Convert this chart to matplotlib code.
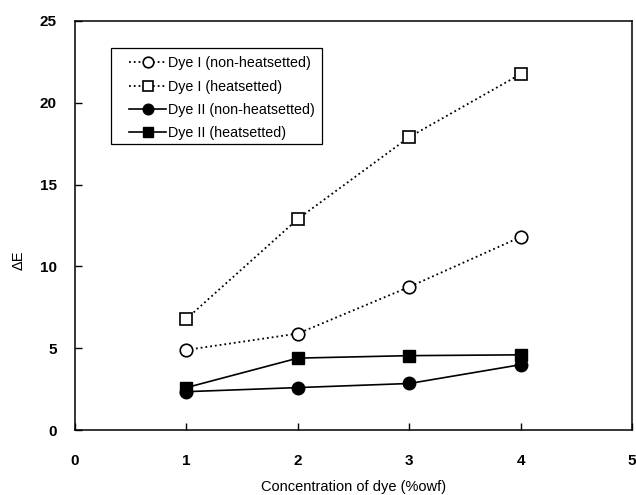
import matplotlib
matplotlib.use("Agg")
import matplotlib.pyplot as plt
import matplotlib.patches as patches

# concentration of dye (%owf)
conc = [1, 2, 3, 4]

dye1_non_heat = [4.9, 5.9, 8.75, 11.8]
dye1_heat = [6.8, 12.9, 17.9, 21.75]
dye2_non_heat = [2.35, 2.6, 2.85, 4.0]
dye2_heat = [2.6, 4.4, 4.55, 4.6]

labels = [
    "Dye I (non-heatsetted)",
    "Dye I (heatsetted)",
    "Dye II (non-heatsetted)",
    "Dye II (heatsetted)",
]

x_ticks = [0, 1, 2, 3, 4, 5]
y_ticks = [0, 5, 10, 15, 20, 25]

plt.rcParams["font.family"] = ["Liberation Sans", "DejaVu Sans"]

fig = plt.figure(figsize=(6.36, 4.95), dpi=100)
ax = fig.add_axes([0.118, 0.131, 0.876, 0.827])

ms = 9
ax.plot(conc, dye1_non_heat, ls=":", lw=1.3, color="black", marker="o",
        ms=ms, mfc="white", mec="black", mew=1.2, label=labels[0])
ax.plot(conc, dye1_heat, ls=":", lw=1.3, color="black", marker="s",
        ms=ms, mfc="white", mec="black", mew=1.2, label=labels[1])
ax.plot(conc, dye2_non_heat, ls="-", lw=1.2, color="black", marker="o",
        ms=ms, mfc="black", mec="black", label=labels[2])
ax.plot(conc, dye2_heat, ls="-", lw=1.2, color="black", marker="s",
        ms=ms, mfc="black", mec="black", label=labels[3])

ax.set_xlim(0, 5)
ax.set_ylim(0, 25)
ax.set_xticks(x_ticks)
ax.set_yticks(y_ticks)
ax.tick_params(direction="in", length=5, width=1, labelsize=11)
ax.tick_params(axis="x", pad=17)
ax.tick_params(axis="y", pad=13)
for lab in ax.get_xticklabels() + ax.get_yticklabels():
    lab.set_fontweight("bold")

for s in ax.spines.values():
    s.set_linewidth(1.1)

ax.set_xlabel("Concentration of dye (%owf)", fontsize=10.5, labelpad=9)
ax.set_ylabel("ΔE", fontsize=10.5)
ax.yaxis.set_label_coords(-0.088, 0.415)

# legend frame drawn separately (wider side padding than top/bottom)
frame = patches.Rectangle((0.0646, 0.699), 0.379, 0.235, transform=ax.transAxes,
                          fill=True, facecolor="white", edgecolor="black",
                          lw=0.9, zorder=4)
ax.add_patch(frame)

leg = ax.legend(loc="upper left", bbox_to_anchor=(0.097, 0.913), fontsize=10.3,
                handlelength=2.6, markerscale=0.85, borderpad=0,
                labelspacing=0.64, handletextpad=0.14, borderaxespad=0,
                frameon=False)
leg.set_zorder(5)

fig.savefig("out.png", dpi=100)
